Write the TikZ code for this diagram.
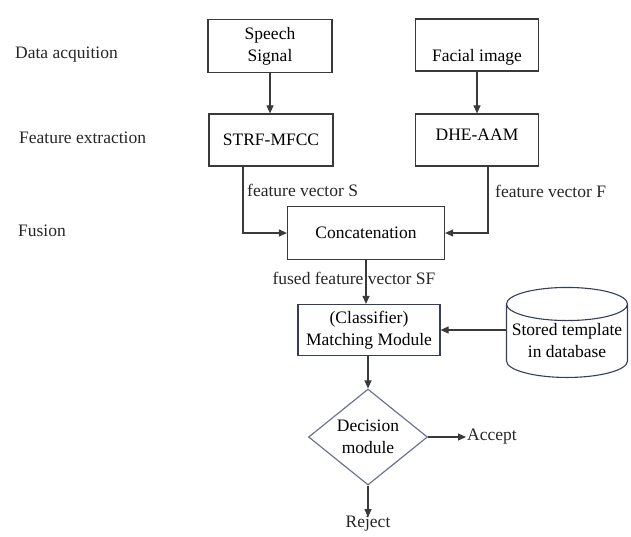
\documentclass[tikz,border=0pt]{standalone}
\usepackage{fontspec}
\setmainfont{Liberation Serif}
\usetikzlibrary{arrows.meta,positioning,shapes.geometric}
\definecolor{ink}{HTML}{3A3A3A}
\definecolor{navy}{HTML}{353D5E}
\definecolor{slate}{HTML}{6C7492}
\newcommand\dfont{\fontsize{17.5}{22}\selectfont}
\tikzset{
  box/.style={draw=ink,line width=1.2pt,fill=white,align=center,font=\dfont,inner sep=2pt},
  modbox/.style={box,draw=navy},
  decbox/.style={draw=slate,line width=1.2pt,diamond,align=center,font=\dfont,inner sep=0pt,minimum width=119pt,minimum height=91pt},
  dbbox/.style={draw=navy,line width=1.1pt,cylinder,shape border rotate=90,aspect=0.3,align=center,font=\dfont,inner sep=0pt,minimum width=121pt,minimum height=90pt},
  lab/.style={font=\dfont,text=black!85,inner sep=1pt},
  arr/.style={-{Triangle[length=8pt,width=7pt]},draw=ink,line width=1.1pt},
}
\begin{document}
\begin{tikzpicture}[x=1pt,y=-1pt]
  \useasboundingbox (0,0) rectangle (631,536);
  % stage names on the left
  \node[lab,anchor=west] (acq) at (14,55) {Data acquition};
  \node[lab,anchor=west] (fext) at (18,138) {Feature extraction};
  \node[lab,anchor=west] (fus) at (17,231) {Fusion};
  % blocks
  \node[box,minimum width=124pt,minimum height=53pt] (speech) at (270,46) {Speech\\Signal};
  \node[box,minimum width=123pt,minimum height=52pt] (facial) at (477,45) {\strut\\Facial image};
  \node[box,minimum width=124pt,minimum height=52pt] (strf) at (271,140) {STRF-MFCC};
  \node[box,minimum width=123pt,minimum height=52pt,text height=12pt,text depth=12pt] (dhe) at (477,140) {DHE-AAM};
  \node[box,minimum width=157pt,minimum height=53pt] (concat) at (366,233) {Concatenation};
  \node[modbox,minimum width=142pt,minimum height=51pt] (match) at (369,330) {(Classifier)\\Matching Module};
  \node[dbbox] (db) at (567,341) {Stored template\\in database};
  \node[decbox] (dec) at (368,437) {Decision\\module};
  \node[lab,anchor=west] (accept) at (466,437) {Accept};
  \node[lab] (reject) at (368,524) {Reject};
  % connectors
  \draw[arr] (speech.south) -- (speech.south |- strf.north);
  \draw[arr] (facial.south) -- (facial.south |- dhe.north);
  \draw[arr] ([xshift=-28pt]strf.south) |- (concat.west);
  \draw[arr] ([xshift=11pt]dhe.south) |- (concat.east);
  \node[lab,anchor=west] (fvs) at (246,190) {feature vector S};
  \node[lab,anchor=west] (fvf) at (494,191) {feature vector F};
  \draw[arr] (concat.south) -- (concat.south |- match.north);
  \node[lab] (fvsf) at (354,278) {fused feature vector SF};
  \draw[arr] (match.east -| db.west) -- (match.east);
  \draw[arr] (match.south -| dec.north) -- (dec.north);
  \draw[arr] (dec.east) -- (accept.west);
  \draw[arr] (dec.south) -- ([yshift=-2pt]reject.north);
\end{tikzpicture}
\end{document}
